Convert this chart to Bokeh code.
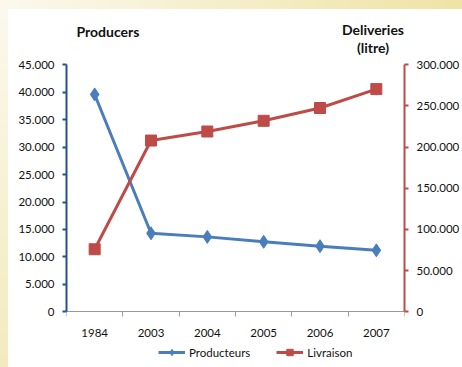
from bokeh.plotting import figure
from bokeh.models import (Range1d, LinearAxis, FixedTicker, Label, Legend,
                          LegendItem)
from bokeh.embed import file_html
from bokeh.resources import INLINE

# --- data -------------------------------------------------------------
years = ["1984", "2003", "2004", "2005", "2006", "2007"]
producteurs = [39600, 14300, 13650, 12750, 11950, 11200]
livraison = [76000, 208000, 219000, 232000, 247500, 270500]

left_ticks = [0, 5000, 10000, 15000, 20000, 25000, 30000, 35000, 40000, 45000]
right_ticks = [0, 50000, 100000, 150000, 200000, 250000, 300000]

FONT = "Lato"
BLUE = "#4a7ebb"
RED = "#be4b48"
AXIS_BLUE = "#24508f"

# page geometry (pixels): the frame spans the full height, the value
# span 0..max sits between PX_TOP and PX_ZERO
W, H = 462, 367
PX_TOP, PX_ZERO = 64.3, 311.3
span = PX_ZERO - PX_TOP
lo_frac = (H - PX_ZERO) / span
hi_frac = 1 + PX_TOP / span


def dotted(v):
    return f"{v:,}".replace(",", ".")


# category slots: one unit wide, centred on k + 0.5
xs = [k + 0.5 for k in range(len(years))]
ymax_l, ymax_r = left_ticks[-1], right_ticks[-1]

p = figure(width=W, height=H, output_backend="svg", toolbar_location=None,
           x_range=Range1d(0, len(years)),
           y_range=Range1d(-ymax_l * lo_frac, ymax_l * hi_frac),
           x_axis_type=None, y_axis_type=None,
           min_border=0, min_border_left=66, min_border_right=55,
           min_border_top=0, min_border_bottom=0)
p.extra_y_ranges = {"deliv": Range1d(-ymax_r * lo_frac, ymax_r * hi_frac)}

p.border_fill_color = None
p.background_fill_color = None
p.outline_line_color = None
p.styles = {
    "background": (
        "linear-gradient(#ffffff,#ffffff) 8px 9px / calc(100% - 8px) calc(100% - 9px) no-repeat, "
        "linear-gradient(to bottom, #fbf9ee, #f3eabf) 0 0 / 8px 100% no-repeat, "
        "linear-gradient(to right, #fbf9ee, #efe3a6) 0 0 / 100% 9px no-repeat"
    )
}

# --- axes -------------------------------------------------------------
xaxis = LinearAxis(
    ticker=FixedTicker(ticks=xs, minor_ticks=list(range(len(years) + 1))),
    major_label_overrides={x: y for x, y in zip(xs, years)},
    fixed_location=0,
)
xaxis.axis_line_color = "#9a9a9a"
xaxis.axis_line_width = 1
xaxis.major_tick_line_color = None
xaxis.major_tick_out = 0
xaxis.minor_tick_line_color = "#9a9a9a"
xaxis.minor_tick_out = 5
xaxis.minor_tick_in = 0
xaxis.major_label_standoff = 12
p.add_layout(xaxis, "below")

yaxis = LinearAxis(ticker=FixedTicker(ticks=left_ticks), bounds=(0, ymax_l),
                   major_label_overrides={t: dotted(t) for t in left_ticks})
yaxis.axis_line_color = AXIS_BLUE
yaxis.axis_line_width = 2
yaxis.major_tick_line_color = AXIS_BLUE
yaxis.major_tick_line_width = 2
yaxis.major_tick_out = 4
yaxis.major_tick_in = 0
yaxis.minor_tick_line_color = None
yaxis.major_label_standoff = 8
p.add_layout(yaxis, "left")

raxis = LinearAxis(y_range_name="deliv", ticker=FixedTicker(ticks=right_ticks),
                   bounds=(0, ymax_r),
                   major_label_overrides={t: dotted(t) for t in right_ticks})
raxis.axis_line_color = RED
raxis.axis_line_width = 2
raxis.major_tick_line_color = RED
raxis.major_tick_line_width = 2
raxis.major_tick_out = 4
raxis.major_tick_in = 0
raxis.minor_tick_line_color = None
raxis.major_label_standoff = 8
p.add_layout(raxis, "right")

for ax in (xaxis, yaxis, raxis):
    ax.major_label_text_font = FONT
    ax.major_label_text_font_size = "11.5px"
    ax.major_label_text_color = "#111111"

p.ygrid.ticker = FixedTicker(ticks=left_ticks[1:])
p.ygrid.grid_line_color = "#3d63a0"
p.ygrid.grid_line_width = 1
p.xgrid.grid_line_color = None

# --- series -----------------------------------------------------------
l1 = p.line(xs, producteurs, line_color=BLUE, line_width=3)
s1 = p.scatter(xs, producteurs, marker="diamond", size=13,
               fill_color=BLUE, line_color=BLUE)
l2 = p.line(xs, livraison, line_color=RED, line_width=3, y_range_name="deliv")
s2 = p.scatter(xs, livraison, marker="square", size=11,
               fill_color=RED, line_color=RED, y_range_name="deliv")

# --- titles -----------------------------------------------------------
title_style = dict(text_font=FONT, text_font_size="14px",
                   text_font_style="bold", text_align="center",
                   text_baseline="middle", text_color="#111111")
p.add_layout(Label(x=0.735, y=ymax_l, y_offset=33,
                   text="Producers", **title_style))
p.add_layout(Label(x=5.44, y=ymax_l, y_offset=35,
                   text="Deliveries", **title_style))
p.add_layout(Label(x=5.44, y=ymax_l, y_offset=17,
                   text="(litre)", **title_style))

# --- legend under the category axis -----------------------------------
legend = Legend(items=[LegendItem(label="Producteurs", renderers=[l1, s1]),
                       LegendItem(label="Livraison", renderers=[l2, s2])],
                orientation="horizontal", location=(92, 7),
                glyph_width=27, glyph_height=16, label_standoff=4, spacing=26,
                padding=0, margin=0, border_line_color=None,
                background_fill_color=None,
                label_text_font=FONT, label_text_font_size="11.5px",
                label_text_color="#111111")
p.add_layout(legend, "center")

open("out.html", "w").write(file_html(p, INLINE))
